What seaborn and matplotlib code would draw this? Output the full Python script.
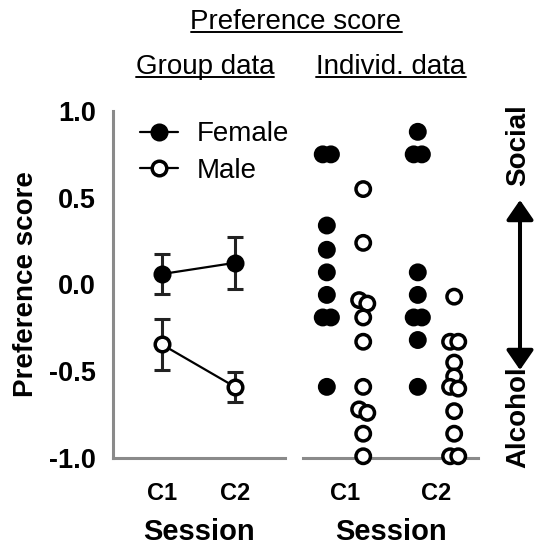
import pandas as pd
import seaborn as sns
import matplotlib.pyplot as plt
from matplotlib.lines import Line2D
from matplotlib.patches import FancyArrowPatch

# --- data ---
sessions = ['C1', 'C2']

# group data: mean and SEM per session
female_mean = [0.06, 0.125]
female_sem = [0.115, 0.15]
male_mean = [-0.345, -0.59]
male_sem = [0.145, 0.087]

# individual scores
female_c1 = [0.75, 0.75, 0.34, 0.20, 0.07, -0.06, -0.19, -0.19, -0.59]
female_c2 = [0.88, 0.75, 0.75, 0.07, -0.06, -0.19, -0.19, -0.32, -0.59]
male_c1 = [0.55, 0.24, -0.09, -0.11, -0.19, -0.33, -0.59, -0.72, -0.74, -0.86, -0.99]
male_c2 = [-0.07, -0.33, -0.33, -0.45, -0.53, -0.59, -0.60, -0.73, -0.86, -0.99, -0.99]

sns.set_style('white', rc={'text.color': 'black', 'axes.labelcolor': 'black'})
plt.rcParams['font.family'] = ['Liberation Sans', 'DejaVu Sans']
plt.rcParams['axes.unicode_minus'] = False

W, H = 535, 545
GRAY = '#8a8a8a'
fig = plt.figure(figsize=(W / 100, H / 100), dpi=100)


def px_axes(left, right, top, bottom):
    return fig.add_axes([left / W, 1 - bottom / H, (right - left) / W, (bottom - top) / H])


ax1 = px_axes(113, 285, 111, 458)
ax2 = px_axes(303, 478, 111, 458)

# group data (left)
grp = pd.DataFrame({
    'session': [0, 1, 0, 1],
    'sex': ['Female', 'Female', 'Male', 'Male'],
    'mean': female_mean + male_mean,
    'sem': female_sem + male_sem,
})
face = {'Female': 'black', 'Male': 'white'}
for sex in ['Female', 'Male']:
    d = grp[grp['sex'] == sex]
    ax1.errorbar(d['session'], d['mean'], yerr=d['sem'], fmt='none', ecolor='#222222',
                 elinewidth=2.2, capsize=6, capthick=2.2, zorder=2)
    sns.lineplot(data=d, x='session', y='mean', color='black', marker='o', ms=10.5,
                 mfc=face[sex], mec='black', mew=2.5, lw=1.6, ax=ax1, zorder=3)


# individual data (right): dodge by sex, small spread for near-equal values
def spread(vals, width=0.045, tol=0.04):
    vals = sorted(vals, reverse=True)
    offs = [0.0] * len(vals)
    i = 0
    while i < len(vals) - 1:
        if abs(vals[i] - vals[i + 1]) < tol:
            offs[i], offs[i + 1] = -width, width
            i += 2
        else:
            i += 1
    return vals, offs


rows = []
for si, (fv, mv) in enumerate([(female_c1, male_c1), (female_c2, male_c2)]):
    for sex, vals, dodge in [('Female', fv, -0.2), ('Male', mv, 0.2)]:
        v, o = spread(vals)
        for val, off in zip(v, o):
            rows.append({'x': si + dodge + off, 'score': val, 'sex': sex})
ind = pd.DataFrame(rows)
sns.scatterplot(data=ind, x='x', y='score', hue='sex', palette=face, edgecolor='black',
                linewidth=2.5, s=108, legend=False, ax=ax2, clip_on=False, zorder=3)

# axes styling
for ax in (ax1, ax2):
    ax.set_ylim(-1, 1)
    ax.spines['top'].set_visible(False)
    ax.spines['right'].set_visible(False)
    for s in ['left', 'bottom']:
        ax.spines[s].set_color(GRAY)
        ax.spines[s].set_linewidth(2.2)
    ax.set_xticks([0, 1])
    ax.set_xticklabels(sessions, fontweight='bold')
    ax.tick_params(axis='both', length=9.5, width=2.2, color=GRAY, labelcolor='black',
                   labelsize=17, pad=4)
    ax.tick_params(axis='x', pad=7.5)
    ax.set_xlabel('Session', fontsize=21, fontweight='bold', labelpad=10)
ax1.set_xlim(-0.664, 1.682)
ax2.set_xlim(-0.462, 1.462)
ax2.spines['left'].set_visible(False)
ax2.set_yticks([])
ax2.set_ylabel('')

yt = [-1.0, -0.5, 0.0, 0.5, 1.0]
ax1.set_yticks(yt)
ax1.set_yticklabels([f'{v:.1f}' for v in yt], fontweight='bold')
ax1.tick_params(axis='y', labelsize=19.5, pad=3)
ax1.set_ylabel('Preference score', fontsize=20, fontweight='bold', labelpad=7)

handles = [Line2D([], [], color='black', marker='o', ms=10.5, mfc=face[s], mec='black',
                  mew=2.5, lw=1.6) for s in ['Female', 'Male']]
ax1.legend(handles, ['Female', 'Male'], loc='upper left', bbox_to_anchor=(0.157, 0.97),
           frameon=False, fontsize=20, handlelength=1.35, handletextpad=0.7,
           borderpad=0, borderaxespad=0, labelspacing=0.37)

# underlined headers
renderer = fig.canvas.get_renderer()
for text, cx, base in [('Preference score', 296, 29), ('Group data', 205, 74),
                       ('Individ. data', 391, 74)]:
    t = fig.text(cx / W, 1 - base / H, text, ha='center', va='baseline', fontsize=20)
    bb = t.get_window_extent(renderer)
    yl = 1 - (base + 3) / H
    fig.add_artist(Line2D([bb.x0 / W, bb.x1 / W], [yl, yl], color='black', lw=1.4,
                          transform=fig.transFigure))

# social / alcohol axis on the right
fig.text(518 / W, 1 - 145 / H, 'Social', rotation=90, ha='center', va='center',
         fontsize=20, fontweight='bold')
fig.text(518 / W, 1 - 417 / H, 'Alcohol', rotation=90, ha='center', va='center',
         fontsize=20, fontweight='bold')
fig.add_artist(FancyArrowPatch((520 / W, 1 - 200 / H), (520 / W, 1 - 370 / H),
                               transform=fig.transFigure,
                               arrowstyle='<|-|>,head_length=1.0,head_width=0.69',
                               mutation_scale=12, lw=2.9, color='black',
                               shrinkA=0, shrinkB=0))

fig.savefig('out.png', dpi=100)
